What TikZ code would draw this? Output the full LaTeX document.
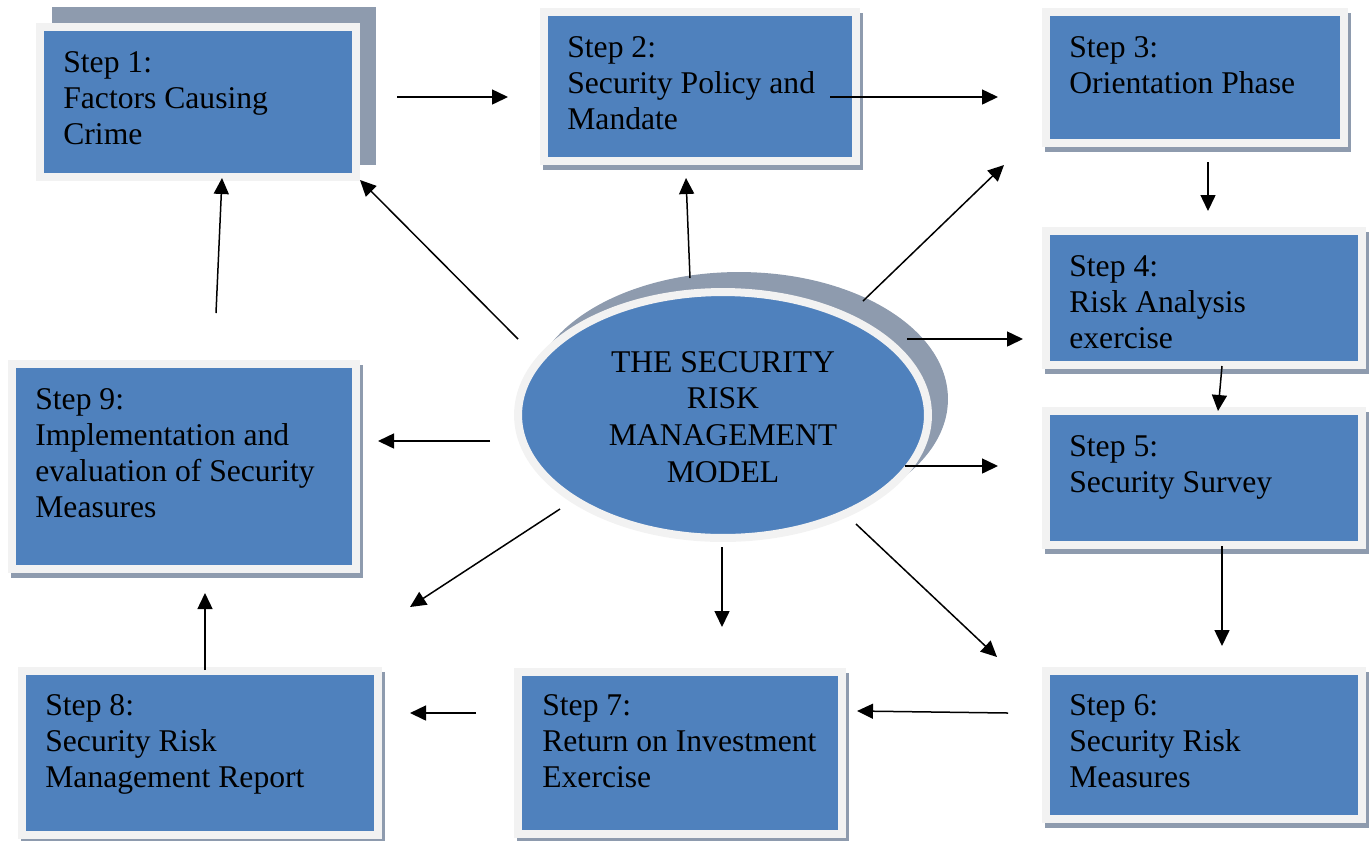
\documentclass[tikz,border=0pt]{standalone}
\usepackage{fontspec}
\setmainfont{Liberation Serif}
\usetikzlibrary{arrows.meta,fit,shapes.geometric}
\definecolor{boxblue}{HTML}{4F81BD}
\definecolor{boxrim}{HTML}{F2F2F2}
\definecolor{boxshade}{HTML}{8E9BAE}
\tikzset{
  boxnode/.style={rectangle, fill=boxblue, draw=boxrim, line width=0.16cm, inner sep=0pt, outer sep=0pt},
  steptext/.style={anchor=base west, inner sep=0pt, font=\fontsize{18}{20.5}\selectfont},
  centertext/.style={anchor=base, inner sep=0pt, font=\fontsize{18}{21}\selectfont},
  arr/.style={-{Triangle[length=0.32cm,width=0.3cm]}, line width=0.03cm, black},
}
\newcommand{\stepbox}[7]{%
  \fill[boxshade] ({#2+#6},{#3+#7}) rectangle ({#4+#6},{#5+#7});
  \node[boxnode, fit={({#2+4},{#3+4}) ({#4-4},{#5-4})}] (#1) {};
}
\newcommand{\steptext}[4]{%
  \node[steptext] (#1) at (#2,#3) {\begin{tabular}[t]{@{}l@{}}#4\end{tabular}};
}
\begin{document}
\begin{tikzpicture}[x=0.02cm, y=-0.02cm]
\useasboundingbox (0,0) rectangle (1372,840);
% boxes
\stepbox{s1}{36}{23}{360}{181}{16}{-16}
\stepbox{s2}{540}{8}{860}{165}{3}{5}
\stepbox{s3}{1042}{8}{1348}{147}{3}{5}
\stepbox{s4}{1042}{227}{1366}{369}{3}{5}
\stepbox{s5}{1042}{407}{1366}{549}{3}{5}
\stepbox{s6}{1042}{667}{1366}{823}{3}{5}
\stepbox{s7}{514}{668}{846}{838}{3}{5}
\stepbox{s8}{18}{667}{382}{839}{3}{5}
\stepbox{s9}{8}{360}{360}{573}{3}{5}
% ellipse
\fill[boxshade] (739,399) ellipse [x radius=4.18cm, y radius=2.54cm];
\node[ellipse, fill=boxblue, draw=boxrim, line width=0.16cm, inner sep=0pt,
      minimum width=8.2cm, minimum height=4.92cm] (ell) at (723,415) {};
\node[centertext] (elltext) at (723,372) {\begin{tabular}[t]{@{}c@{}}THE SECURITY\\RISK\\MANAGEMENT\\MODEL\end{tabular}};
% texts
\steptext{t1}{63}{72}{Step 1:\\Factors Causing\\Crime}
\steptext{t2}{567}{57}{Step 2:\\Security Policy and\\Mandate}
\steptext{t3}{1069}{57}{Step 3:\\Orientation Phase}
\steptext{t4}{1069}{276}{Step 4:\\Risk Analysis\\exercise}
\steptext{t5}{1069}{456}{Step 5:\\Security Survey}
\steptext{t6}{1069}{715}{Step 6:\\Security Risk\\Measures}
\steptext{t7}{542}{715}{Step 7:\\Return on Investment\\Exercise}
\steptext{t8}{45}{715}{Step 8:\\Security Risk\\Management Report}
\steptext{t9}{35}{409}{Step 9:\\Implementation and\\evaluation of Security\\Measures}
% arrow end points
\coordinate (a1s) at (397,97);  \coordinate (a1e) at (508,97);
\coordinate (a2s) at (830,97);  \coordinate (a2e) at (998,97);
\coordinate (a3s) at (1208,162); \coordinate (a3e) at (1208,211);
\coordinate (a4s) at (1222,366); \coordinate (a4e) at (1218,411);
\coordinate (a5s) at (1222,546); \coordinate (a5e) at (1222,646);
\coordinate (a6s) at (1008,713); \coordinate (a6e) at (857,711);
\coordinate (a7s) at (476,713); \coordinate (a7e) at (410,713);
\coordinate (a8s) at (205,670); \coordinate (a8e) at (205,593);
\coordinate (a9s) at (216,313); \coordinate (a9e) at (222,178);
\coordinate (b1s) at (518,339); \coordinate (b1e) at (360,180);
\coordinate (b2s) at (690,278); \coordinate (b2e) at (686,178);
\coordinate (b3s) at (863,301); \coordinate (b3e) at (1004,165);
\coordinate (b4s) at (907,339); \coordinate (b4e) at (1023,339);
\coordinate (b5s) at (905,466); \coordinate (b5e) at (998,466);
\coordinate (b6s) at (856,524); \coordinate (b6e) at (997,657);
\coordinate (b7s) at (722,547); \coordinate (b7e) at (722,627);
\coordinate (b8s) at (560,509); \coordinate (b8e) at (410,607);
\coordinate (b9s) at (490,441); \coordinate (b9e) at (378,441);
\foreach \n in {a1,a2,a3,a4,a5,a6,a7,a8,a9,b1,b2,b3,b4,b5,b6,b7,b8,b9}
  \draw[arr] (\n s) -- (\n e);
\end{tikzpicture}
\end{document}
